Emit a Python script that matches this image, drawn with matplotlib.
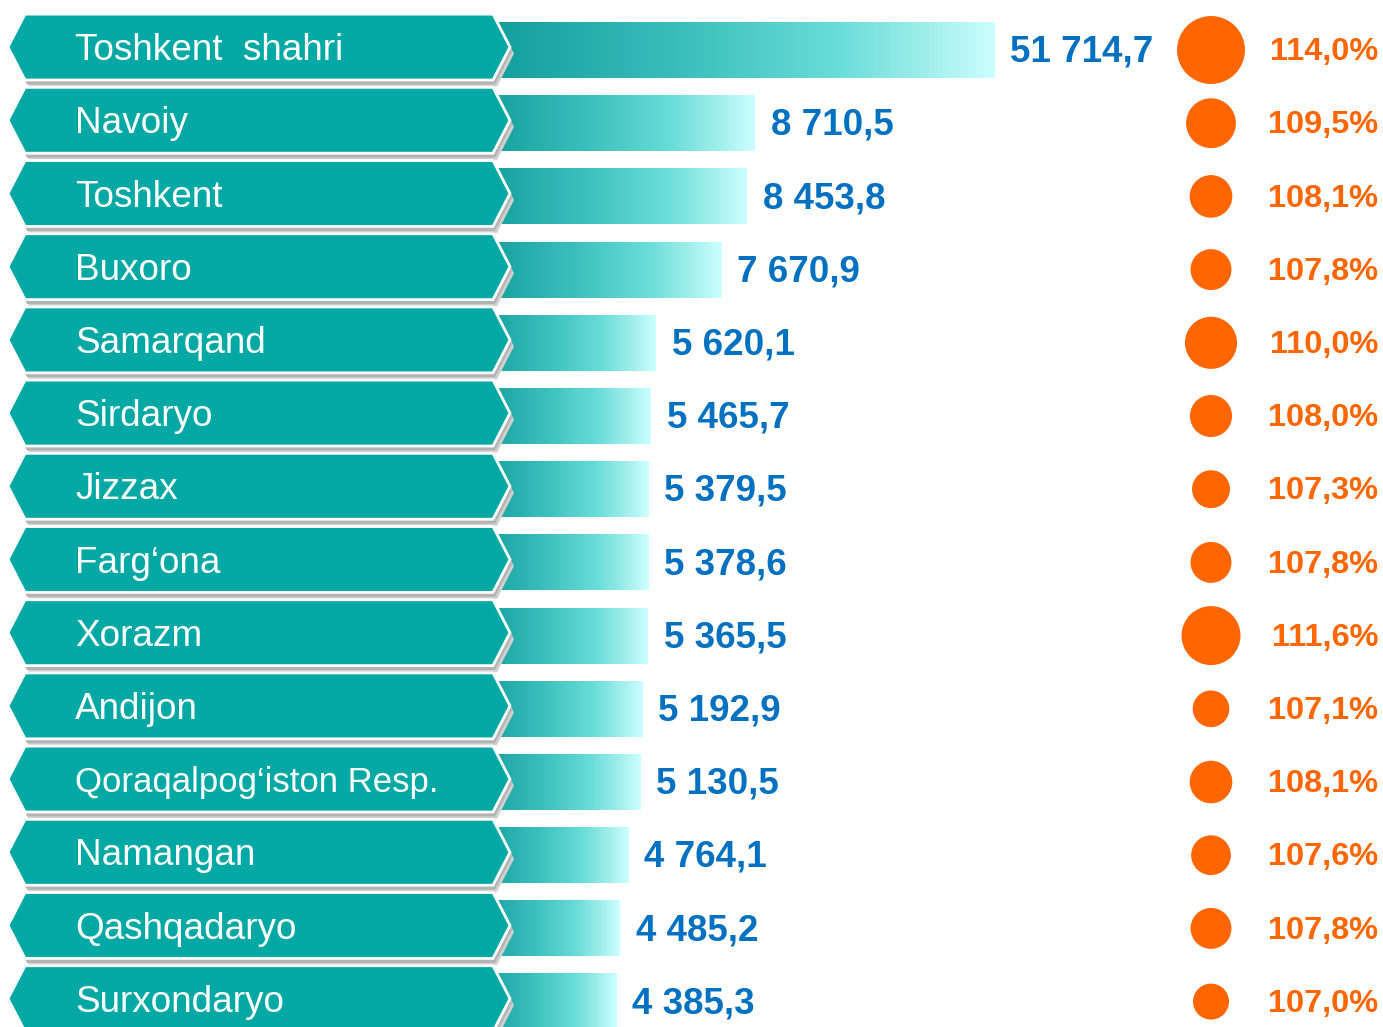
import numpy as np
import matplotlib.pyplot as plt
from matplotlib.patches import Polygon
from matplotlib.colors import LinearSegmentedColormap

regions = ["Toshkent  shahri", "Navoiy", "Toshkent", "Buxoro", "Samarqand",
           "Sirdaryo", "Jizzax", "Farg\u2018ona", "Xorazm", "Andijon",
           "Qoraqalpog\u2018iston Resp.", "Namangan", "Qashqadaryo", "Surxondaryo"]
values = [51714.7, 8710.5, 8453.8, 7670.9, 5620.1, 5465.7, 5379.5,
          5378.6, 5365.5, 5192.9, 5130.5, 4764.1, 4485.2, 4385.3]
growth = [114.0, 109.5, 108.1, 107.8, 110.0, 108.0, 107.3,
          107.8, 111.6, 107.1, 108.1, 107.6, 107.8, 107.0]

plt.rcParams['font.family'] = ['Liberation Sans', 'DejaVu Sans']

W, H = 1383, 1027
pitch, y0 = 73.2, 50          # row spacing and first row centre (px)
bar_x0 = 476                  # px where value 0 sits
px_per_unit = 0.032
bar_cap = 16200               # first bar is cut (broken axis)

rows = np.arange(len(values))
ylim = ((H - y0) / pitch, -y0 / pitch)


def fmt_val(v):
    return f"{v:,.1f}".replace(",", " ").replace(".", ",")


def half_cap(fontsize):
    # half of the cap height, in row units, so text can sit on its baseline
    return fontsize * 100 / 72 * 0.716 / 2 / pitch


fig = plt.figure(figsize=(W / 100, H / 100), dpi=100)

# ==========================
# Bars with gradient
# ==========================
ax_bar = fig.add_axes([bar_x0 / W, 0, (W - bar_x0) / W, 1], zorder=1)
ax_bar.set_xlim(0, (W - bar_x0) / px_per_unit)
ax_bar.set_ylim(*ylim)
ax_bar.axis("off")

grad = LinearSegmentedColormap.from_list(
    "teal", [(0, "#0E9C98"), (0.4, "#3BBFBD"), (0.7, "#69DDD8"),
             (0.86, "#9DEDEA"), (1, "#CCFFFF")])
widths = [min(v, bar_cap) for v in values]
bars = ax_bar.barh(rows, widths, height=0.765, color="none")
for b in bars:
    x, y, w, h = b.get_x(), b.get_y(), b.get_width(), b.get_height()
    ax_bar.imshow(np.linspace(0, 1, 256)[None, :], cmap=grad, aspect="auto",
                  extent=(x, x + w, y + h, y), interpolation="bicubic", zorder=1)
ax_bar.set_xlim(0, (W - bar_x0) / px_per_unit)
ax_bar.set_ylim(*ylim)

fs_val = 26.5
for i, (w, v) in enumerate(zip(widths, values)):
    ax_bar.text(w + 16 / px_per_unit, i + half_cap(fs_val) - 0.02, fmt_val(v),
                ha="left", va="baseline",
                fontsize=fs_val, fontweight="bold", color="#0070C0")

# ==========================
# Banners, circles, percentages
# ==========================
ax = fig.add_axes([0, 0, 1, 1], zorder=2)
ax.patch.set_visible(False)
ax.set_xlim(0, W)
ax.set_ylim(*ylim)
ax.axis("off")

hh = 0.45
for i, name in enumerate(regions):
    c = i - 0.04
    xs = [8, 25, 493, 510, 493, 25]
    ys = [c, c - hh, c - hh, c, c + hh, c + hh]
    # shadow
    for dx, dy, col in [(4, 0.09, "#D0D0D0"), (2, 0.06, "#B3B3B3")]:
        ax.add_patch(Polygon(list(zip([p + dx for p in xs], [q + dy for q in ys])),
                             closed=True, facecolor=col, edgecolor="none", zorder=2))
    ax.add_patch(Polygon(list(zip(xs, ys)), closed=True, facecolor="#02A8A4",
                         edgecolor="white", linewidth=2, zorder=3))
    fs = 25 if len(name) > 18 else 26.6
    ax.text(75, c + half_cap(fs), name, ha="left", va="baseline", color="white",
            fontsize=fs, zorder=4)

ax.scatter(np.full(len(growth), 1211), rows,
           s=[246 * (g - 104.27) for g in growth], color="#FF6600",
           edgecolors="none", zorder=5)
fs_pct = 23.4
for i, g in enumerate(growth):
    ax.text(1378, i + half_cap(fs_pct) - 0.02, f"{g:.1f}%".replace(".", ","),
            ha="right", va="baseline",
            fontsize=fs_pct, fontweight="bold", color="#FF6600", zorder=5)

fig.savefig("out.png", dpi=100)
